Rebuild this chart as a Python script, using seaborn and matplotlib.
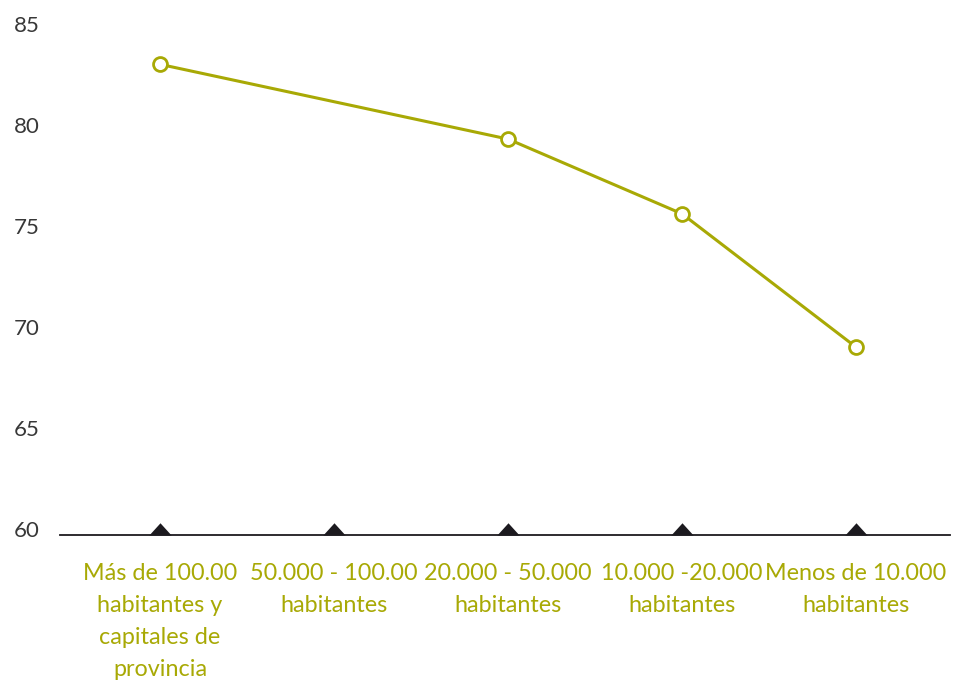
import numpy as np
import pandas as pd
import matplotlib
matplotlib.use("Agg")
import matplotlib.pyplot as plt
import matplotlib.transforms as mtransforms
import seaborn as sns
from matplotlib.path import Path

categories = [
    "Más de 100.00\nhabitantes y\ncapitales de\nprovincia",
    "50.000 - 100.00\nhabitantes",
    "20.000 - 50.000\nhabitantes",
    "10.000 -20.000\nhabitantes",
    "Menos de 10.000\nhabitantes",
]
values = [83.3, np.nan, 79.6, 75.9, 69.3]
y_ticks = [60, 65, 70, 75, 80, 85]

olive = "#a8a905"

sns.set_theme(style="white")
plt.rcParams['font.family'] = ['Lato', 'DejaVu Sans']

df = pd.DataFrame({"pos": range(len(categories)), "valor": values})
df_ok = df.dropna()

fig = plt.figure(figsize=(9.68, 6.84), dpi=100)
ax = fig.add_axes([60 / 968, 1 - 535 / 684, 890 / 968, 505 / 684])

sns.lineplot(data=df_ok, x="pos", y="valor", ax=ax, color=olive,
             linewidth=2.2, marker="o", markersize=10,
             markerfacecolor="white", markeredgecolor=olive,
             markeredgewidth=2.0, zorder=4)

# triangles sitting on the baseline
tri = Path([(-1, 0), (1, 0), (0, 1.1), (-1, 0)],
           [Path.MOVETO, Path.LINETO, Path.LINETO, Path.CLOSEPOLY])
ax.scatter(df["pos"], [60] * len(categories), marker=tri, s=310,
           color="#1c1a1f", linewidths=0, zorder=3, clip_on=False)

ax.set_xlim(-0.575, 4.54)
ax.set_ylim(60, 85)
ax.tick_params(axis="x", length=0, pad=20)
ax.tick_params(axis="y", length=0, pad=24)
ax.set_xticks(df["pos"])
ax.set_xticklabels(categories, color=olive, fontsize=16.8, linespacing=1.65)
ax.set_yticks(y_ticks)
ax.set_yticklabels([str(t) for t in y_ticks])
shift = mtransforms.ScaledTranslation(0, 6 / 100, fig.dpi_scale_trans)
for lab in ax.get_yticklabels():
    lab.set_fontsize(16)
    lab.set_color("#383838")
    lab.set_horizontalalignment("center")
    lab.set_transform(lab.get_transform() + shift)
ax.set_xlabel("")
ax.set_ylabel("")

for side in ["top", "right", "left"]:
    ax.spines[side].set_visible(False)
ax.spines["bottom"].set_color("#1c1a1f")
ax.spines["bottom"].set_linewidth(1.3)
ax.grid(False)

fig.savefig("out.png", dpi=100)
